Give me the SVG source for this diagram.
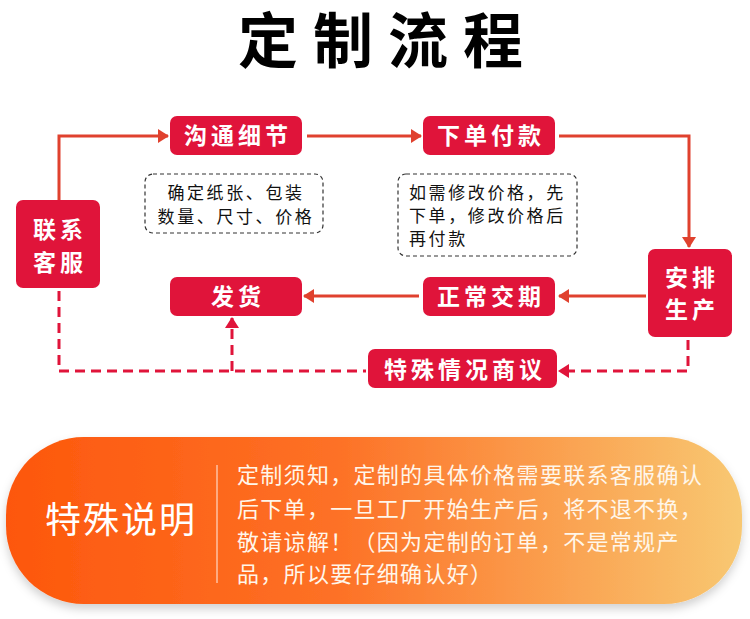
<svg xmlns="http://www.w3.org/2000/svg" width="750" height="619" viewBox="0 0 750 619">
<defs>
<style>
.node rect{fill:#e0143a}
.nt{font-family:"Noto Sans CJK SC","Noto Sans",sans-serif;font-weight:700;font-size:23px;fill:#fff;letter-spacing:4px}
.note rect{fill:#fff;stroke:#333;stroke-width:1.2;stroke-dasharray:4 3}
.ntx{font-family:"Noto Sans CJK SC","Noto Sans",sans-serif;font-size:17px;fill:#111;letter-spacing:2.6px}
.solid{fill:none;stroke:#e0412e;stroke-width:3}
.dash{fill:none;stroke:#e0143a;stroke-width:3;stroke-dasharray:10 6}
.bt{font-family:"Noto Sans CJK SC","Noto Sans",sans-serif;font-size:22px;fill:#fff6ea;letter-spacing:1.3px}
</style>
<marker id="ahs" markerUnits="userSpaceOnUse" markerWidth="12" markerHeight="14" refX="10" refY="7" orient="auto"><path d="M0,0 L11,7 L0,14 Z" fill="#e0412e"/></marker>
<marker id="ahd" markerUnits="userSpaceOnUse" markerWidth="12" markerHeight="14" refX="10" refY="7" orient="auto"><path d="M0,0 L11,7 L0,14 Z" fill="#e0143a"/></marker>
<linearGradient id="bg" x1="0" y1="0" x2="1" y2="0">
<stop offset="0" stop-color="#fd570c"/>
<stop offset="0.45" stop-color="#fd7126"/>
<stop offset="1" stop-color="#f8c872"/>
</linearGradient>
<filter id="sh" x="-5%" y="-10%" width="110%" height="130%"><feDropShadow dx="0" dy="5" stdDeviation="5" flood-color="#000" flood-opacity="0.18"/></filter>
</defs>
<rect width="750" height="619" fill="#fff"/>
<text x="388" y="63" text-anchor="middle" font-family="'Noto Sans CJK SC','Noto Sans',sans-serif" font-weight="700" font-size="60" letter-spacing="15" fill="#000">定制流程</text>

<g id="connectors">
<path class="solid" d="M59,200 V136 H168" marker-end="url(#ahs)"/>
<path class="solid" d="M307,136 H421" marker-end="url(#ahs)"/>
<path class="solid" d="M559,136 H689 V247" marker-end="url(#ahs)"/>
<path class="solid" d="M646,296 H559" marker-end="url(#ahs)"/>
<path class="solid" d="M419,296 H304" marker-end="url(#ahs)"/>
<path class="dash" d="M59,291 V371 H366"/>
<path class="dash" d="M232,371 V318" marker-end="url(#ahd)"/>
<path class="dash" d="M688,340 V371 H559" marker-end="url(#ahd)"/>
</g>

<g id="n-goutong" class="node"><rect x="170" y="116" width="132" height="39" rx="7"/><text class="nt" x="238" y="144" text-anchor="middle">沟通细节</text></g>
<g id="n-xiadan" class="node"><rect x="423" y="116" width="132" height="39" rx="7"/><text class="nt" x="491" y="144" text-anchor="middle">下单付款</text></g>
<g id="n-lianxi" class="node"><rect x="16" y="200" width="84" height="88" rx="7"/><text class="nt" x="60" y="238" text-anchor="middle">联系</text><text class="nt" x="60" y="271" text-anchor="middle">客服</text></g>
<g id="n-anpai" class="node"><rect x="648" y="249" width="84" height="88" rx="7"/><text class="nt" x="692" y="286" text-anchor="middle">安排</text><text class="nt" x="692" y="318" text-anchor="middle">生产</text></g>
<g id="n-fahuo" class="node"><rect x="170" y="277" width="132" height="39" rx="7"/><text class="nt" x="238" y="305" text-anchor="middle">发货</text></g>
<g id="n-zhengchang" class="node"><rect x="423" y="277" width="132" height="39" rx="7"/><text class="nt" x="491" y="305" text-anchor="middle">正常交期</text></g>
<g id="n-teshu" class="node"><rect x="368" y="349" width="189" height="39" rx="7"/><text class="nt" x="465" y="378" text-anchor="middle">特殊情况商议</text></g>

<g id="note1" class="note"><rect x="145" y="174" width="178" height="59" rx="8"/><text class="ntx" x="236" y="199" text-anchor="middle">确定纸张、包装</text><text class="ntx" x="236" y="223" text-anchor="middle">数量、尺寸、价格</text></g>
<g id="note2" class="note"><rect x="398" y="174" width="179" height="82" rx="8"/><text class="ntx" x="409" y="199">如需修改价格，先</text><text class="ntx" x="409" y="222">下单，修改价格后</text><text class="ntx" x="409" y="245">再付款</text></g>

<g id="banner">
<rect x="6" y="437" width="736" height="167" rx="78" fill="url(#bg)" filter="url(#sh)"/>
<text x="121" y="533" text-anchor="middle" font-family="'Noto Sans CJK SC','Noto Sans',sans-serif" font-size="36" letter-spacing="2" fill="#fff">特殊说明</text>
<line x1="217" y1="465" x2="217" y2="583" stroke="#fff" stroke-opacity="0.6" stroke-width="1.5"/>
<text class="bt" x="237" y="483">定制须知，定制的具体价格需要联系客服确认</text>
<text class="bt" x="237" y="517">后下单，一旦工厂开始生产后，将不退不换，</text>
<text class="bt" x="237" y="550">敬请谅解！（因为定制的订单，不是常规产</text>
<text class="bt" x="237" y="582">品，所以要仔细确认好）</text>
</g>
</svg>
